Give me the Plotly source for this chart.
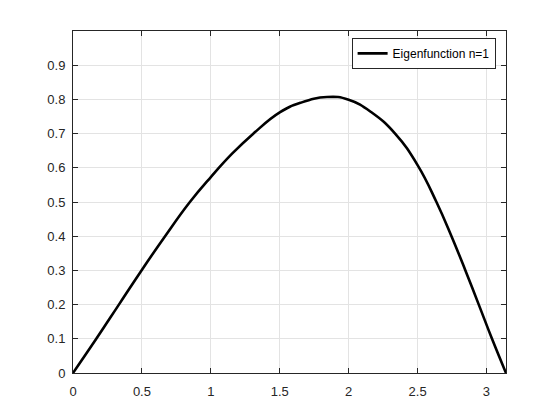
import plotly.graph_objects as go

# curve
x_vals = [0, 0.169, 0.333, 0.497, 0.668, 0.848, 1.0, 1.156, 1.306, 1.5,
          1.65, 1.843, 2.0, 2.17, 2.337, 2.5, 2.637, 2.746, 2.847, 2.944,
          3.04, 3.1416]
y_vals = [0, 0.1, 0.2, 0.3, 0.4, 0.5, 0.573, 0.642, 0.699, 0.762,
          0.790, 0.807, 0.799, 0.761, 0.7, 0.608, 0.5, 0.4, 0.3, 0.2,
          0.1, 0]

x_ticks = [0, 0.5, 1, 1.5, 2, 2.5, 3]
x_labels = ["0", "0.5", "1", "1.5", "2", "2.5", "3"]
y_ticks = [0, 0.1, 0.2, 0.3, 0.4, 0.5, 0.6, 0.7, 0.8, 0.9]
y_labels = ["0", "0.1", "0.2", "0.3", "0.4", "0.5", "0.6", "0.7", "0.8", "0.9"]

fig = go.Figure()
fig.add_trace(go.Scatter(x=x_vals, y=y_vals, mode="lines", name="Eigenfunction n=1",
                         line=dict(color="black", width=2.6, shape="spline", smoothing=1.3)))

axis_style = dict(showline=True, linecolor="#262626", linewidth=1, mirror="ticks",
                  ticks="inside", ticklen=5, tickcolor="#262626", automargin=False,
                  showgrid=True, gridcolor="#e3e3e3", gridwidth=1, zeroline=False,
                  tickfont=dict(family="Liberation Sans, Arial", size=13, color="#262626"))

fig.update_xaxes(range=[0, 3.1416], tickvals=x_ticks, ticktext=x_labels,
                 ticklabelstandoff=6, **axis_style)
fig.update_yaxes(range=[0, 1], tickvals=y_ticks, ticktext=y_labels,
                 ticklabelstandoff=4, **axis_style)

# page body has an 8px margin, so the figure is a bit smaller and shifted
fig.update_layout(
    width=552, height=412,
    margin=dict(l=65, r=54, t=23, b=47),
    paper_bgcolor="white", plot_bgcolor="white",
    showlegend=True,
    legend=dict(x=0.976, y=0.98, xanchor="right", yanchor="top",
                bgcolor="white", bordercolor="#262626", borderwidth=1,
                font=dict(family="Liberation Sans, Arial", size=12, color="black"),
                itemwidth=30, tracegroupgap=0),
)

fig.write_html("out.html")
